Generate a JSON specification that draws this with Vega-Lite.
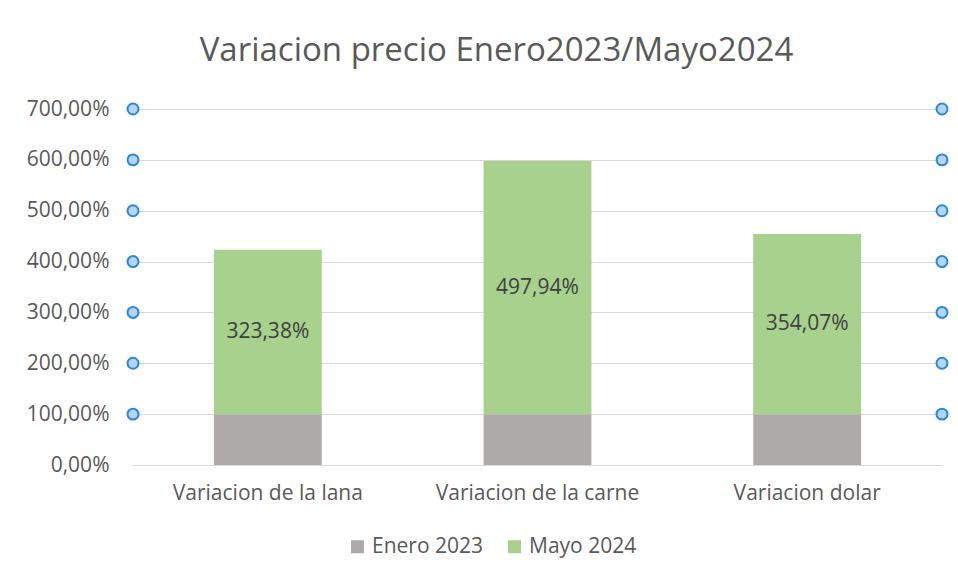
{
  "$schema": "https://vega.github.io/schema/vega-lite/v6.json",
  "width": 809,
  "height": 356,
  "autosize": {"type": "none"},
  "padding": {"left": 133, "top": 109, "right": 16, "bottom": 115},
  "background": "white",
  "config": {
    "locale": {"number": {"decimal": ",", "thousands": ".", "grouping": [3], "currency": ["$", ""]}},
    "view": {"stroke": null},
    "font": "Open Sans"
  },
  "title": {
    "text": "Variacion precio Enero2023/Mayo2024",
    "fontSize": 33,
    "fontWeight": "normal",
    "color": "#595959",
    "anchor": "middle",
    "frame": "group",
    "dx": -41,
    "offset": 30
  },
  "datasets": {
    "bars": [
      {"categoria": "Variacion de la lana", "serie": "Enero 2023", "orden": 1, "valor": 1.0},
      {"categoria": "Variacion de la lana", "serie": "Mayo 2024", "orden": 2, "valor": 3.2338},
      {"categoria": "Variacion de la carne", "serie": "Enero 2023", "orden": 1, "valor": 1.0},
      {"categoria": "Variacion de la carne", "serie": "Mayo 2024", "orden": 2, "valor": 4.9794},
      {"categoria": "Variacion dolar", "serie": "Enero 2023", "orden": 1, "valor": 1.0},
      {"categoria": "Variacion dolar", "serie": "Mayo 2024", "orden": 2, "valor": 3.5407}
    ],
    "handles": [
      {"lado": 0, "nivel": 1}, {"lado": 0, "nivel": 2}, {"lado": 0, "nivel": 3}, {"lado": 0, "nivel": 4},
      {"lado": 0, "nivel": 5}, {"lado": 0, "nivel": 6}, {"lado": 0, "nivel": 7},
      {"lado": 1, "nivel": 1}, {"lado": 1, "nivel": 2}, {"lado": 1, "nivel": 3}, {"lado": 1, "nivel": 4},
      {"lado": 1, "nivel": 5}, {"lado": 1, "nivel": 6}, {"lado": 1, "nivel": 7}
    ]
  },
  "layer": [
    {
      "layer": [
        {
          "data": {"name": "bars"},
          "mark": {"type": "bar"},
          "encoding": {
            "x": {
              "field": "categoria", "type": "nominal", "sort": null,
              "scale": {"paddingInner": 0.6, "paddingOuter": 0.3},
              "axis": {
                "title": null, "labelAngle": 0, "labelFontSize": 21, "labelColor": "#595959",
                "labelLimit": 400, "ticks": false, "domain": true, "domainColor": "#d9d9d9", "labelPadding": 17
              }
            },
            "y": {
              "field": "valor", "type": "quantitative", "stack": "zero",
              "scale": {"domain": [0, 7], "nice": false},
              "axis": {
                "title": null, "format": ".2%", "values": [0, 1, 2, 3, 4, 5, 6, 7],
                "labelFontSize": 21, "labelColor": "#595959", "ticks": false, "domain": false,
                "gridColor": "#d9d9d9", "labelPadding": 24
              }
            },
            "color": {
              "field": "serie", "type": "nominal",
              "scale": {"domain": ["Enero 2023", "Mayo 2024"], "range": ["#aeaaaa", "#a9d18e"]},
              "legend": {
                "title": null, "orient": "none", "direction": "horizontal",
                "legendX": 214, "legendY": 427, "symbolType": "square", "symbolSize": 170,
                "labelFontSize": 21, "labelColor": "#595959", "columnPadding": 20, "labelOffset": 4
              }
            },
            "order": {"field": "orden"}
          }
        },
        {
          "data": {"name": "bars"},
          "transform": [
            {"stack": "valor", "groupby": ["categoria"], "sort": [{"field": "orden"}], "as": ["v0", "v1"]},
            {"filter": "datum.serie === 'Mayo 2024'"},
            {"calculate": "(datum.v0 + datum.v1) / 2", "as": "medio"}
          ],
          "mark": {"type": "text", "fontSize": 21, "color": "#404040"},
          "encoding": {
            "x": {"field": "categoria", "type": "nominal", "sort": null},
            "y": {"field": "medio", "type": "quantitative"},
            "text": {"field": "valor", "type": "quantitative", "format": ".2%"}
          }
        }
      ]
    },
    {
      "data": {"name": "handles"},
      "mark": {"type": "point", "shape": "circle", "filled": true, "size": 120, "fill": "#b4d4f8", "stroke": "#2b88d8", "strokeWidth": 2, "opacity": 1},
      "encoding": {
        "x": {"field": "lado", "type": "quantitative", "scale": {"domain": [0, 1], "nice": false}, "axis": null},
        "y": {"field": "nivel", "type": "quantitative"}
      }
    }
  ],
  "resolve": {"scale": {"x": "independent"}}
}
